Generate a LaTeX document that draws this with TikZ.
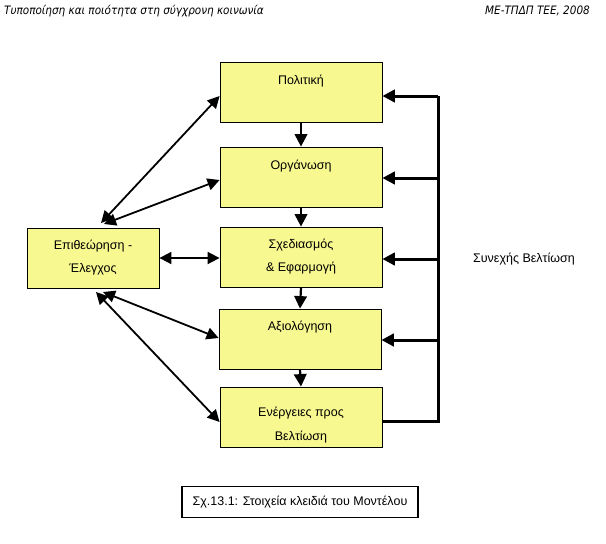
\documentclass[tikz,border=0pt]{standalone}
\usepackage{fontspec}
\setmainfont{Liberation Sans}
\newfontfamily\hdrfont{DejaVu Sans Condensed}
\usetikzlibrary{arrows.meta}
\definecolor{boxfill}{RGB}{248,248,145}
\begin{document}
\begin{tikzpicture}[x=1pt,y=-1pt,
  box/.style={draw=black,line width=0.8pt,fill=boxfill,minimum width=162pt,minimum height=60pt,inner sep=0pt,font=\fontsize{12.5}{23}\selectfont,align=center},
  lbl/.style={inner sep=0pt,font=\fontsize{12.5}{24.5}\selectfont,align=center},
  tip/.style={-{Triangle[length=12.5pt,width=12.5pt]}},
  dtip/.style={{Triangle[length=12pt,width=12pt]}-{Triangle[length=12pt,width=12pt]}},
  thin arrow/.style={line width=1.8pt},
  thick line/.style={line width=3pt}]
\useasboundingbox (0,0) rectangle (606,544);
% header
\node[anchor=west,font=\hdrfont\fontsize{11.6}{13}\selectfont\itshape,inner sep=0pt] (h1) at (4,11) {Τυποποίηση και ποιότητα στη σύγχρονη κοινωνία};
\node[anchor=east,font=\hdrfont\fontsize{11.6}{13}\selectfont\itshape,inner sep=0pt] (h2) at (590,11) {ΜΕ-ΤΠΔΠ ΤΕΕ, 2008};
% boxes
\node[box] (p) at (301,92) {\raisebox{24pt}{Πολιτική}};
\node[box] (o) at (301,177) {\raisebox{24pt}{Οργάνωση}};
\node[box] (s) at (301,257) {Σχεδιασμός\\\& Εφαρμογή};
\node[box] (a) at (300,339) {\raisebox{26pt}{Αξιολόγηση}};
\node[box] (e) at (301,417) {};
\node[lbl] (et) at (301,425) {Ενέργειες προς\\Βελτίωση};
\node[box,minimum width=132pt] (l) at (93,258) {Επιθεώρηση -\\Έλεγχος};
% down arrows
\foreach \u/\d in {p/o,o/s,s/a,a/e}
  \draw[tip,line width=2.2pt] (\u.south) -- (\d.north);
% right feedback
\coordinate (r0) at (438,421);
\coordinate (r1) at (438,96);
\draw[thick line] (e.east |- r0) -- (r0) -- (r1);
\foreach \n/\yy in {p/96,o/178,s/259,a/340}
  \draw[thick line,tip] (438,\yy) -- (\n.east |- 0,\yy);
\node[font=\fontsize{12.5}{14}\selectfont] (sb) at (524,259) {Συνεχής Βελτίωση};
% left arrows
\draw[thin arrow,dtip] (101,223) -- (p.west |- 0,96);
\draw[thin arrow,dtip] (104,224) -- (o.west |- 0,180);
\draw[thin arrow,dtip] (l.east |- 0,258) -- (s.west |- 0,258);
\draw[thin arrow,dtip] (103,292) -- (a.west |- 0,338);
\draw[thin arrow,dtip] (96,292) -- (e.west |- 0,422);
% caption
\node[draw,line width=1.2pt,minimum width=236pt,minimum height=31pt,font=\fontsize{12.5}{14}\selectfont] (cap) at (300,502) {Σχ.13.1: Στοιχεία κλειδιά του Μοντέλου};
\end{tikzpicture}
\end{document}
